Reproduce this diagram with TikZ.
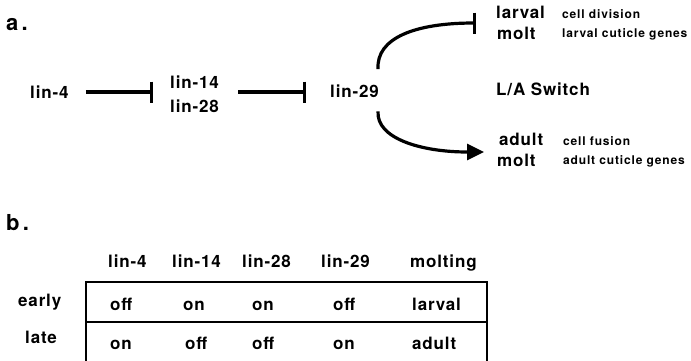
\documentclass[tikz,border=0pt]{standalone}
\usepackage{fontspec}
\setmainfont{TeX Gyre Heros}
\newfontfamily\bigf{TeX Gyre Heros}[LetterSpace=5]
\newfontfamily\smallf{TeX Gyre Heros}[LetterSpace=7]
\newfontfamily\hdrf{TeX Gyre Heros}[LetterSpace=15]
\usetikzlibrary{arrows.meta}
\begin{document}
\begin{tikzpicture}[x=1pt,y=-1pt,
  lbl/.style={inner sep=0pt,anchor=base west,font=\bigf\bfseries\fontsize{17}{20}\selectfont},
  sml/.style={inner sep=0pt,anchor=base west,font=\smallf\bfseries\fontsize{12}{13}\selectfont},
  hdr/.style={inner sep=0pt,anchor=base west,font=\hdrf\bfseries\fontsize{22}{24}\selectfont},
  inhib/.style={line width=3.2pt,-{Bar[width=21pt,line width=3pt]}},
  activ/.style={line width=3.2pt,-{Triangle[length=17pt,width=16pt]}},
  boxline/.style={line width=1.3pt}]
\useasboundingbox (0,0) rectangle (691,360);
% part a
\node[hdr] (la) at (6,30) {a.};
\node[lbl] (lin4) at (30,98) {lin-4};
\node[lbl] (lin14) at (170,88) {lin-14};
\node[lbl] (lin28) at (170,112) {lin-28};
\node[lbl] (lin29) at (330,97) {lin-29};
\coordinate (a1s) at ([xshift=17pt,yshift=6pt]lin4.base east);
\coordinate (a1e) at ([xshift=-17pt]lin14.west |- a1s);
\coordinate (a2s) at ([xshift=19pt]lin14.east |- a1s);
\coordinate (a2e) at ([xshift=-24pt]lin29.west |- a1s);
\draw[inhib] (a1s) -- (a1e);
\draw[inhib] (a2s) -- (a2e);
\node[lbl] (larval) at (496,18) {larval};
\node[lbl] (molt1) at (497,39) {molt};
\node[sml] (celldiv) at (562,18) {cell division};
\node[sml] (larcut) at (562,37) {larval cuticle genes};
\node[lbl] (switch) at (496,95) {L/A Switch};
\node[lbl] (adult) at (499,145) {adult};
\node[lbl] (molt2) at (497,166) {molt};
\node[sml] (cellfus) at (563,145) {cell fusion};
\node[sml] (adcut) at (563,164) {adult cuticle genes};
\coordinate (upE) at (476,23);
\coordinate (loE) at (484,152);
\coordinate (upS) at ([xshift=-1pt,yshift=15pt]lin29.north east);
\coordinate (loS) at ([xshift=-1pt,yshift=-14pt]lin29.south east);
\draw[inhib] (upS) .. controls (376,38) and (415,23) .. (upE);
\draw[activ] (loS) .. controls (376,138) and (420,152) .. (loE);
% part b
\node[hdr] (lb) at (6,230) {b.};
\node[lbl] (h1) at (108,267) {lin-4};
\node[lbl] (h2) at (172,267) {lin-14};
\node[lbl] (h3) at (242,267) {lin-28};
\node[lbl] (h4) at (321,267) {lin-29};
\node[lbl] (h5) at (410,267) {molting};
\node[lbl] (early) at (18,306) {early};
\node[lbl] (late) at (25,343) {late};
\node[lbl] (e1) at (110,310) {off};
\node[lbl] (e2) at (183,310) {on};
\node[lbl] (e3) at (252,310) {on};
\node[lbl] (e4) at (333,310) {off};
\node[lbl] (e5) at (412,310) {larval};
\node[lbl] (l1) at (110,349) {on};
\node[lbl] (l2) at (185,349) {off};
\node[lbl] (l3) at (252,349) {off};
\node[lbl] (l4) at (333,349) {on};
\node[lbl] (l5) at (412,349) {adult};
\draw[boxline] (86,362) -- (86,282) -- (487,282) -- (487,362);
\draw[boxline] (86,322) -- (487,322);
\end{tikzpicture}
\end{document}
